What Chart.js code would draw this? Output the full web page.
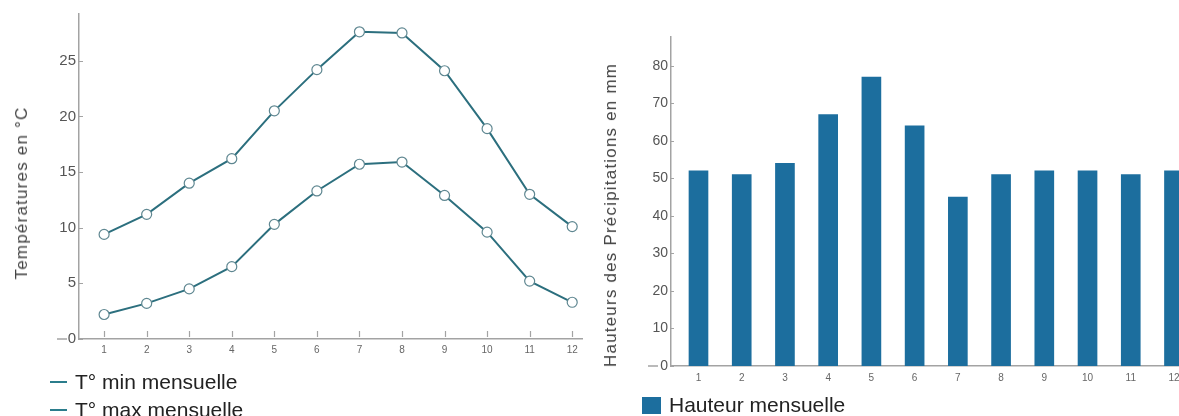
<!DOCTYPE html>
<html lang="fr">
<head>
<meta charset="utf-8">
<title>Températures et précipitations</title>
<script src="https://cdn.jsdelivr.net/npm/chart.js@4.4.1/dist/chart.umd.min.js"></script>
<style>
    html, body { margin: 0; padding: 0; background: #fff; }
    body { width: 1179px; height: 416px; position: relative; overflow: hidden; font-family: "Liberation Sans", Arial, sans-serif; }
    .box { position: absolute; top: 0; height: 416px; }
    #left { left: 0; width: 590px; }
    #right { left: 590px; width: 589px; }
    .ytitle {
        position: absolute; white-space: nowrap; color: #444;
        font-size: 17px; letter-spacing: 1.2px;
        transform: translate(-50%, -50%) rotate(-90deg);
    }
    .legend { position: absolute; font-size: 21px; color: #222; white-space: nowrap; }
    .legend .row { position: absolute; left: 0; display: flex; align-items: center; height: 26px; }
    .legend .dash { width: 17px; height: 2px; background: #2b7d8c; margin-right: 8px; }
    .legend .swatch { width: 19px; height: 17px; background: #1c6e9e; margin-right: 8px; }
</style>
</head>
<body>
<div class="box" id="left"><canvas id="tempChart"></canvas></div>
<div class="box" id="right"><canvas id="rainChart"></canvas></div>

<div class="ytitle" style="left:22px; top:193px;">Températures en °C</div>
<div class="ytitle" style="left:611px; top:215px;">Hauteurs des Précipitations en mm</div>

<div class="legend" style="left:50px; top:0;">
    <div class="row" style="top:369px;"><span class="dash"></span>T° min mensuelle</div>
    <div class="row" style="top:397px;"><span class="dash"></span>T° max mensuelle</div>
</div>
<div class="legend" style="left:642px; top:0;">
    <div class="row" style="top:392px;"><span class="swatch"></span>Hauteur mensuelle</div>
</div>

<script>
// --- Data ---
const months = [1, 2, 3, 4, 5, 6, 7, 8, 9, 10, 11, 12];
const tempMin = [2.2, 3.2, 4.5, 6.5, 10.3, 13.3, 15.7, 15.9, 12.9, 9.6, 5.2, 3.3];
const tempMax = [9.4, 11.2, 14.0, 16.2, 20.5, 24.2, 27.6, 27.5, 24.1, 18.9, 13.0, 10.1];
const rain = [52, 51, 54, 67, 77, 64, 45, 51, 52, 52, 51, 52];
const tempTicks = [0, 5, 10, 15, 20, 25];
const rainTicks = [0, 10, 20, 30, 40, 50, 60, 70, 80];

// --- Styles ---
const axisColor = '#a3a3a3';
const lineColor = '#2c6f7e';
const barColor = '#1c6e9e';
const tickColor = '#555';

const toPoints = (values) => values.map((v, i) => ({ x: months[i], y: v }));

// inward tick marks + the bit of x axis that runs past the "0" label
const axisDecor = {
    id: 'axisDecor',
    afterDraw(chart, args, opts) {
        const { ctx, chartArea, scales } = chart;
        ctx.save();
        ctx.strokeStyle = axisColor;
        ctx.lineWidth = 1.2;
        ctx.beginPath();
        scales.y.ticks.forEach(t => {
            const py = Math.round(scales.y.getPixelForValue(t.value)) + 0.5;
            ctx.moveTo(chartArea.left, py);
            ctx.lineTo(chartArea.left + opts.yLen, py);
        });
        if (opts.xLen) {
            scales.x.ticks.forEach(t => {
                const px = Math.round(scales.x.getPixelForValue(t.value)) + 0.5;
                ctx.moveTo(px, chartArea.bottom - 2);
                ctx.lineTo(px, chartArea.bottom - 2 - opts.xLen);
            });
        }
        ctx.stroke();
        ctx.lineWidth = 1.5;
        ctx.beginPath();
        ctx.moveTo(chartArea.left - opts.stubFrom, chartArea.bottom);
        ctx.lineTo(chartArea.left - opts.stubTo, chartArea.bottom);
        ctx.stroke();
        ctx.restore();
    }
};

const fixWidth = (w) => (scale) => { scale.width = w; };
const fixHeight = (h) => (scale) => { scale.height = h; scale.paddingLeft = 0; scale.paddingRight = 0; };
const keepTicks = (list) => (scale) => { scale.ticks = list.map(v => ({ value: v })); };
const noGrid = { display: false, drawTicks: false };

// --- Temperature chart ---
new Chart(document.getElementById('tempChart'), {
    type: 'line',
    data: {
        datasets: [
            { label: 'T° min mensuelle', data: toPoints(tempMin) },
            { label: 'T° max mensuelle', data: toPoints(tempMax) }
        ].map(ds => Object.assign(ds, {
            borderColor: lineColor,
            borderWidth: 2,
            pointRadius: 5,
            pointBorderWidth: 1.2,
            pointBorderColor: '#5f8791',
            pointBackgroundColor: '#fff',
            tension: 0
        }))
    },
    options: {
        responsive: true,
        maintainAspectRatio: false,
        animation: false,
        layout: { padding: { left: 0, right: 8, top: 14, bottom: 55 } },
        plugins: { legend: { display: false }, tooltip: { enabled: false }, axisDecor: { yLen: 4, xLen: 6, stubFrom: 22, stubTo: 12 } },
        scales: {
            x: {
                type: 'linear', min: 0.41, max: 12.23, offset: false,
                grid: noGrid,
                border: { display: true, color: axisColor, width: 1.5 },
                ticks: { stepSize: 1, padding: 5, color: '#666', font: { size: 10 } },
                afterBuildTicks: keepTicks(months),
                afterFit: fixHeight(22)
            },
            y: {
                min: 0, max: 29.2,
                grid: noGrid,
                border: { display: true, color: axisColor, width: 1.5 },
                ticks: { padding: 3, color: tickColor, font: { size: 15 } },
                afterBuildTicks: keepTicks(tempTicks),
                afterFit: fixWidth(79)
            }
        }
    },
    plugins: [axisDecor]
});

// --- Precipitation chart ---
new Chart(document.getElementById('rainChart'), {
    type: 'bar',
    data: {
        datasets: [{
            label: 'Hauteur mensuelle',
            data: toPoints(rain),
            backgroundColor: barColor,
            barThickness: 19
        }]
    },
    options: {
        responsive: true,
        maintainAspectRatio: false,
        animation: false,
        layout: { padding: { left: 0, right: 0, top: 37, bottom: 28 } },
        plugins: { legend: { display: false }, tooltip: { enabled: false }, axisDecor: { yLen: 3, xLen: 0, stubFrom: 23, stubTo: 13 } },
        scales: {
            x: {
                type: 'linear', min: 0.364, max: 12.116, offset: false,
                grid: noGrid,
                border: { display: true, color: axisColor, width: 1.5 },
                ticks: { stepSize: 1, padding: 6, color: '#666', font: { size: 10 } },
                afterBuildTicks: keepTicks(months),
                afterFit: fixHeight(22)
            },
            y: {
                min: 0, max: 87.7,
                grid: noGrid,
                border: { display: true, color: axisColor, width: 1.5 },
                ticks: { padding: 3, color: tickColor, font: { size: 14 } },
                afterBuildTicks: keepTicks(rainTicks),
                afterFit: fixWidth(81)
            }
        }
    },
    plugins: [axisDecor]
});
</script>
</body>
</html>
